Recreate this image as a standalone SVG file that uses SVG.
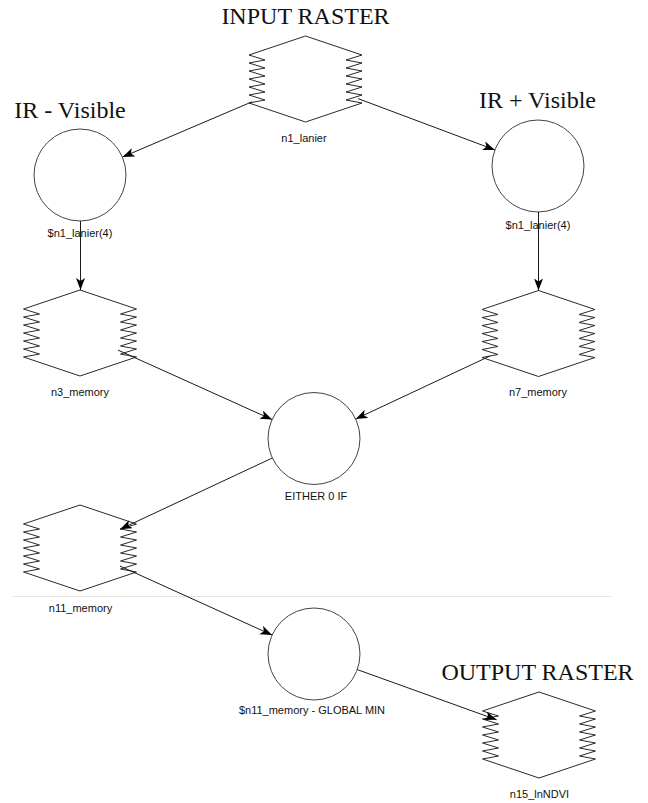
<svg xmlns="http://www.w3.org/2000/svg" xmlns:xlink="http://www.w3.org/1999/xlink" width="648" height="803" viewBox="0 0 648 803">
<style>
.shape{fill:none;stroke:#2a2a2a;stroke-width:1}
.circ{fill:#fff;stroke:#444;stroke-width:1}
.conn{fill:none;stroke:#1a1a1a;stroke-width:1;marker-end:url(#arr)}
.big{font-family:"Liberation Serif","Times New Roman",serif;font-size:24px;fill:#111;text-anchor:middle}
.lbl{font-family:"Liberation Sans",Arial,sans-serif;font-size:11px;fill:#111;text-anchor:middle}
</style>
<defs>
<path id="hex" d="M0,-43 L-56.5,-24 L-40.5,-19 L-56.5,-16 L-40.5,-11 L-56.5,-8 L-40.5,-3 L-56.5,0 L-40.5,5 L-56.5,8 L-40.5,13 L-56.5,16 L-40.5,21 L-56.5,24 L0,43 L56.5,24 L40.5,21 L56.5,16 L40.5,13 L56.5,8 L40.5,5 L56.5,0 L40.5,-3 L56.5,-8 L40.5,-11 L56.5,-16 L40.5,-19 L56.5,-24 Z"/>
<marker id="arr" markerUnits="userSpaceOnUse" markerWidth="14" markerHeight="10" refX="12" refY="4.5" orient="auto">
<path d="M0,0 L12,4.5 L0,9 L3,4.5 Z" fill="#000"/>
</marker>
</defs>
<rect x="0" y="0" width="648" height="803" fill="#fff"/>
<line x1="12" y1="596.5" x2="612" y2="596.5" stroke="#e6e6dc" stroke-width="1"/>

<g id="n1_lanier">
<text class="big" x="305.5" y="24">INPUT RASTER</text>
<use xlink:href="#hex" href="#hex" class="shape" transform="translate(305.5,79)"/>
<text class="lbl" x="304" y="142">n1_lanier</text>
</g>

<g id="ir_minus_visible">
<text class="big" x="70" y="118">IR - Visible</text>
<circle class="circ" cx="80" cy="175" r="46"/>
<text class="lbl" x="80" y="237">$n1_lanier(4)</text>
</g>

<g id="ir_plus_visible">
<text class="big" x="537.5" y="108">IR + Visible</text>
<circle class="circ" cx="538" cy="166" r="46"/>
<text class="lbl" x="538" y="229">$n1_lanier(4)</text>
</g>

<g id="n3_memory">
<use xlink:href="#hex" href="#hex" class="shape" transform="translate(80,333)"/>
<text class="lbl" x="80" y="396">n3_memory</text>
</g>

<g id="n7_memory">
<use xlink:href="#hex" href="#hex" class="shape" transform="translate(538.5,333.5)"/>
<text class="lbl" x="538" y="396">n7_memory</text>
</g>

<g id="either_0_if">
<circle class="circ" cx="314" cy="438.5" r="46"/>
<text class="lbl" x="316" y="500">EITHER 0 IF</text>
</g>

<g id="n11_memory">
<use xlink:href="#hex" href="#hex" class="shape" transform="translate(80,548)"/>
<text class="lbl" x="80.5" y="611.5">n11_memory</text>
</g>

<g id="global_min">
<circle class="circ" cx="314" cy="654" r="46"/>
<text class="lbl" x="312" y="714">$n11_memory - GLOBAL MIN</text>
</g>

<g id="n15_lnNDVI">
<text class="big" x="537.5" y="680">OUTPUT RASTER</text>
<use xlink:href="#hex" href="#hex" class="shape" transform="translate(539,735)"/>
<text class="lbl" x="539.5" y="798">n15_lnNDVI</text>
</g>

<g id="connectors">
<line class="conn" x1="252" y1="101.8" x2="122.5" y2="157"/>
<line class="conn" x1="358" y1="98.6" x2="494.9" y2="149.9"/>
<line class="conn" x1="80.5" y1="221" x2="80.5" y2="290"/>
<line class="conn" x1="538.5" y1="212" x2="538.5" y2="290.5"/>
<line class="conn" x1="118" y1="350.1" x2="272.1" y2="419.6"/>
<line class="conn" x1="490" y1="356" x2="355.7" y2="419"/>
<line class="conn" x1="272.3" y1="458" x2="120" y2="529.3"/>
<line class="conn" x1="120" y1="566.1" x2="272.1" y2="635"/>
<line class="conn" x1="357.3" y1="669.6" x2="496.7" y2="719.8"/>
</g>
</svg>
